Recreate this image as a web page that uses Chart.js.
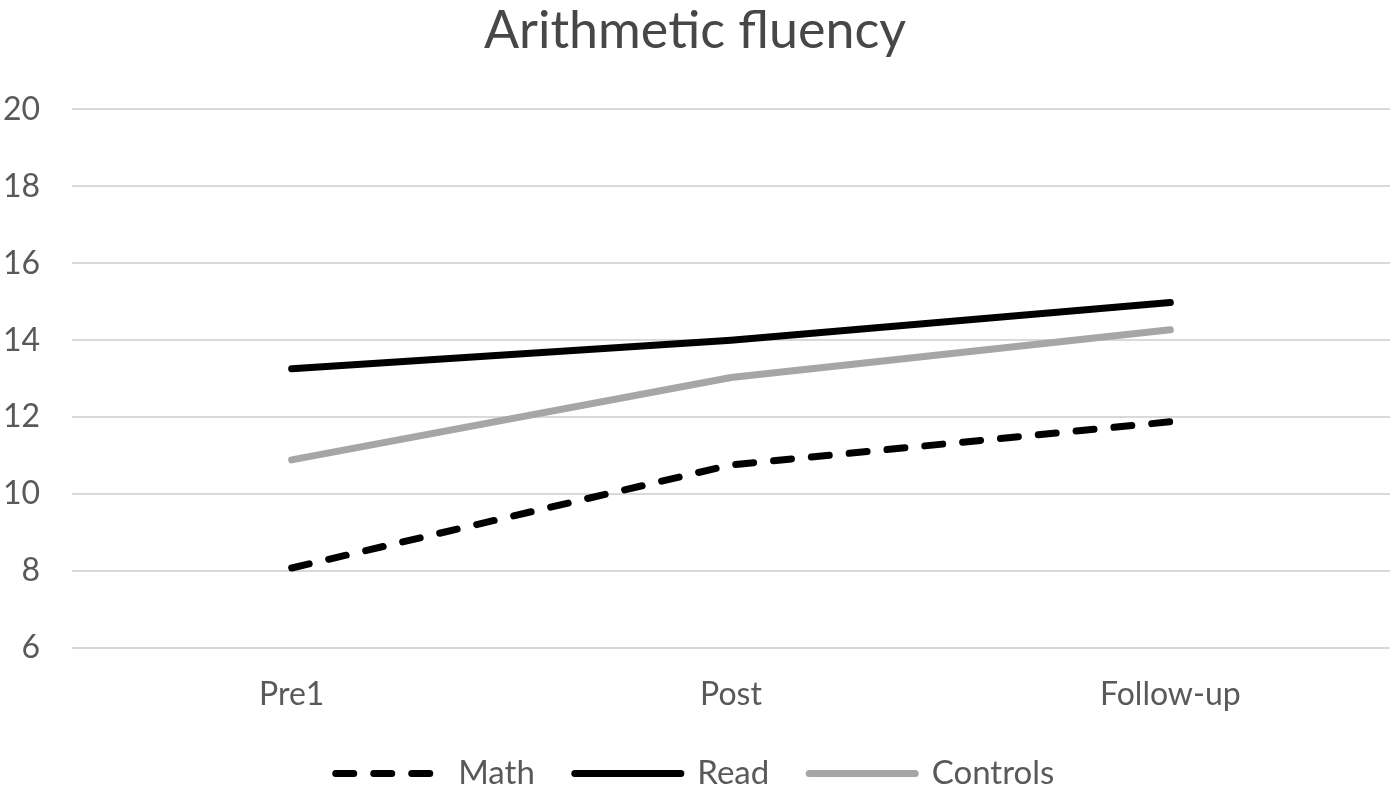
<!DOCTYPE html>
<html>
<head>
<meta charset="utf-8">
<script src="https://cdn.jsdelivr.net/npm/chart.js@4"></script>
<style>
  html, body { margin: 0; padding: 0; background: #fff; }
  #wrap { width: 1396px; height: 792px; }
</style>
</head>
<body>
<div id="wrap"><canvas id="myChart"></canvas></div>
<script>
const categories = ['Pre1', 'Post', 'Follow-up']
const mathValues = [8.08, 10.76, 11.88]
const readValues = [13.26, 14.0, 14.98]
const controlValues = [10.89, 13.03, 14.27]
const yTicks = [6, 8, 10, 12, 14, 16, 18, 20]

const font = "Lato, 'Open Sans', sans-serif"
Chart.defaults.font.family = font
Chart.defaults.color = '#595959'

const datos = {
    labels: categories,
    datasets: [
        {
            label: 'Math',
            data: mathValues,
            borderColor: '#000000',
            backgroundColor: '#000000',
            borderWidth: 7,
            borderDash: [18, 20],
            borderCapStyle: 'round',
            pointRadius: 0,
            tension: 0
        },
        {
            label: 'Read',
            data: readValues,
            borderColor: '#000000',
            backgroundColor: '#000000',
            borderWidth: 7,
            borderCapStyle: 'round',
            pointRadius: 0,
            tension: 0
        },
        {
            label: 'Controls',
            data: controlValues,
            borderColor: '#a6a6a6',
            backgroundColor: '#a6a6a6',
            borderWidth: 7,
            borderCapStyle: 'round',
            pointRadius: 0,
            tension: 0
        }
    ]
}

// legend entries built by hand so the dash of Math shows up
const leyenda = chart => chart.data.datasets.map((ds, i) => ({
    text: ds.label,
    strokeStyle: ds.borderColor,
    fillStyle: ds.borderColor,
    lineWidth: ds.borderWidth,
    lineDash: ds.borderDash || [],
    lineCap: 'round',
    pointStyle: 'line',
    fontColor: '#595959',
    hidden: false,
    datasetIndex: i
}))

const ctx = document.getElementById('myChart')
const myChart = new Chart(ctx, {
    type: 'line',
    data: datos,
    options: {
        responsive: true,
        maintainAspectRatio: false,
        animation: false,
        layout: { padding: { left: 0, right: 6, top: 0, bottom: -8 } },
        plugins: {
            title: {
                display: true,
                text: 'Arithmetic fluency',
                font: { size: 52, weight: 'normal' },
                color: '#474747',
                padding: { top: 0, bottom: 47 }
            },
            legend: {
                position: 'bottom',
                labels: {
                    usePointStyle: true,
                    pointStyle: 'line',
                    pointStyleWidth: 106,
                    boxHeight: 24,
                    font: { size: 33 },
                    color: '#595959',
                    padding: 40,
                    generateLabels: leyenda
                }
            },
            tooltip: { enabled: false }
        },
        scales: {
            x: {
                offset: true,
                grid: { display: false },
                border: { display: false },
                ticks: { font: { size: 32 }, padding: 19 },
                afterFit: axis => { axis.height = 69 }
            },
            y: {
                min: 6,
                max: 20,
                afterBuildTicks: axis => { axis.ticks = yTicks.map(v => ({ value: v })) },
                grid: { color: '#d9d9d9', lineWidth: 2, drawTicks: false },
                border: { display: false },
                ticks: { font: { size: 32 }, padding: 32 },
                afterFit: axis => { axis.width = 72 }
            }
        }
    }
})
</script>
</body>
</html>
